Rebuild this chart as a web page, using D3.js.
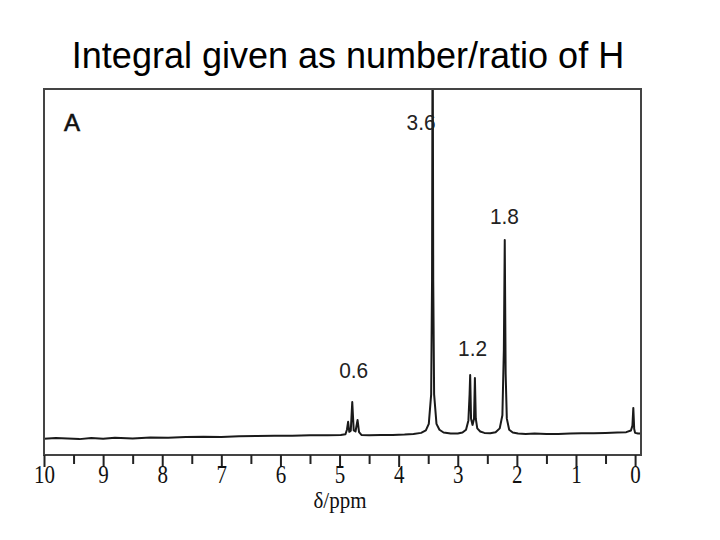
<!DOCTYPE html>
<html>
<head>
<meta charset="utf-8">
<script src="https://cdn.jsdelivr.net/npm/d3@7"></script>
<style>
  html, body { margin: 0; padding: 0; background: #fff; }
  svg { display: block; }
</style>
</head>
<body>
<svg id="chart" width="720" height="540"></svg>
<script>
// ---- Data ----
const titleText = "Integral given as number/ratio of H";
const panelLabel = "A";
const axisLabel = "δ/ppm";

// Spectrum trace: chemical shift (ppm) and intensity (arbitrary units, 100 = top of frame)
const spectrumPpm = [
  10.0, 9.8, 9.6, 9.4, 9.2, 9.0, 8.8, 8.5, 8.2, 7.9, 7.6, 7.3, 7.0, 6.7, 6.4, 6.1, 5.8, 5.5, 5.2, 4.98,
  4.90, 4.875, 4.855, 4.835, 4.81, 4.785, 4.76, 4.73, 4.695, 4.67, 4.63,
  4.5, 4.3, 4.1, 3.9, 3.75, 3.62, 3.54, 3.49, 3.45, 3.435, 3.425, 3.415, 3.40, 3.36, 3.31, 3.24, 3.12,
  3.0, 2.92, 2.86, 2.82, 2.80, 2.79, 2.775, 2.75, 2.725, 2.71, 2.695, 2.67, 2.62, 2.55,
  2.45, 2.36, 2.29, 2.245, 2.22, 2.205, 2.19, 2.17, 2.13, 2.07, 1.98,
  1.85, 1.7, 1.5, 1.3, 1.1, 0.9, 0.7, 0.5, 0.3, 0.15, 0.07, 0.045, 0.03, 0.015, 0.0, -0.05, -0.1
];
const spectrumInt = [
  -0.8, -0.6, -0.7, -0.9, -0.6, -0.8, -0.5, -0.7, -0.4, -0.5, -0.3, -0.2, -0.3, -0.1, 0.0, 0.1, 0.1, 0.2, 0.2, 0.3,
  0.5, 1.8, 4.1, 1.2, 1.5, 9.8, 1.6, 1.3, 4.6, 1.1, 0.3,
  0.2, 0.3, 0.3, 0.4, 0.6, 0.9, 1.6, 3.5, 12, 45, 130, 45, 12, 3.5, 1.8, 1.0, 0.7,
  0.7, 1.0, 1.8, 4.5, 12, 17.6, 5.0, 3.2, 5.0, 16.7, 5.0, 2.2, 1.3, 0.9,
  0.8, 1.1, 2.2, 6.0, 25, 56.5, 18, 5.0, 1.8, 1.0, 0.7,
  0.6, 0.7, 0.6, 0.6, 0.7, 0.8, 0.8, 0.9, 1.0, 1.1, 1.6, 3.0, 8.1, 2.0, 0.9, 0.7, 0.7
];

// Integral annotations
const integralLabels = ["3.6", "1.8", "1.2", "0.6"];
const integralPpm   = [3.62, 2.21, 2.75, 4.76];
const integralInt   = [88.2, 61.0, 23.0, 16.7];

// Axis ticks
const majorTicks = [10, 9, 8, 7, 6, 5, 4, 3, 2, 1, 0];
const minorTicks = [9.5, 8.5, 7.5, 6.5, 5.5, 4.5, 3.5, 2.5, 1.5, 0.5];

// ---- Drawing ----
const svg = d3.select("#chart");
const frame = { left: 44, right: 641, top: 89, bottom: 455 };

const x = d3.scaleLinear().domain([10, -0.1]).range([frame.left, frame.right]);
const y = d3.scaleLinear().domain([0, 100]).range([436, frame.top]);

// Title
svg.append("text")
  .attr("x", 348).attr("y", 68)
  .attr("text-anchor", "middle")
  .attr("font-family", "'Liberation Sans', Arial, sans-serif")
  .attr("font-size", 36)
  .attr("fill", "#000")
  .text(titleText);

// Clip
svg.append("clipPath").attr("id", "clip")
  .append("rect")
  .attr("x", frame.left).attr("y", frame.top)
  .attr("width", frame.right - frame.left)
  .attr("height", frame.bottom - frame.top);

// Spectrum line
const pts = spectrumPpm.map((p, i) => [p, spectrumInt[i]]);
svg.append("path")
  .datum(pts)
  .attr("clip-path", "url(#clip)")
  .attr("fill", "none")
  .attr("stroke", "#1a1a1a")
  .attr("stroke-width", 2)
  .attr("stroke-linejoin", "round")
  .attr("d", d3.line().x(d => x(d[0])).y(d => y(d[1])));

// Frame
svg.append("rect")
  .attr("x", frame.left).attr("y", frame.top)
  .attr("width", frame.right - frame.left)
  .attr("height", frame.bottom - frame.top)
  .attr("fill", "none")
  .attr("stroke", "#444")
  .attr("stroke-width", 2);

// Bottom axis with major ticks
const axisG = svg.append("g").attr("transform", `translate(0,${frame.bottom})`);
axisG.call(d3.axisBottom(x).tickValues(majorTicks).tickSize(12).tickSizeOuter(0).tickFormat(d3.format("d")));
axisG.select(".domain").remove();
axisG.selectAll(".tick line").attr("stroke", "#222").attr("stroke-width", 2);
axisG.selectAll(".tick text")
  .attr("font-family", "'Liberation Serif', 'Times New Roman', serif")
  .attr("font-size", 21)
  .attr("fill", "#111")
  .attr("y", 0)
  .attr("dy", 0)
  .attr("transform", "translate(0,28) scale(1,1.15)");

// Minor ticks
const minorG = svg.append("g").attr("transform", `translate(0,${frame.bottom})`);
minorG.call(d3.axisBottom(x).tickValues(minorTicks).tickSize(9).tickSizeOuter(0).tickFormat(""));
minorG.select(".domain").remove();
minorG.selectAll(".tick line").attr("stroke", "#222").attr("stroke-width", 2);

// Axis label
svg.append("text")
  .attr("transform", "translate(340,508) scale(1,1.1)")
  .attr("text-anchor", "middle")
  .attr("font-family", "'Liberation Serif', 'Times New Roman', serif")
  .attr("font-size", 21)
  .attr("fill", "#111")
  .text(axisLabel);

// Panel label
svg.append("text")
  .attr("x", 64).attr("y", 131)
  .attr("font-family", "'Liberation Sans', Arial, sans-serif")
  .attr("font-size", 24)
  .attr("fill", "#111")
  .attr("stroke", "#111").attr("stroke-width", 0.6)
  .text(panelLabel);

// Integral labels
svg.selectAll("text.integral")
  .data(integralLabels)
  .join("text")
  .attr("class", "integral")
  .attr("x", (d, i) => x(integralPpm[i]))
  .attr("y", (d, i) => y(integralInt[i]))
  .attr("text-anchor", "middle")
  .attr("font-family", "'Liberation Sans', Arial, sans-serif")
  .attr("font-size", 22)
  .attr("textLength", 29)
  .attr("lengthAdjust", "spacingAndGlyphs")
  .attr("fill", "#222")
  .text(d => d);
</script>
</body>
</html>
